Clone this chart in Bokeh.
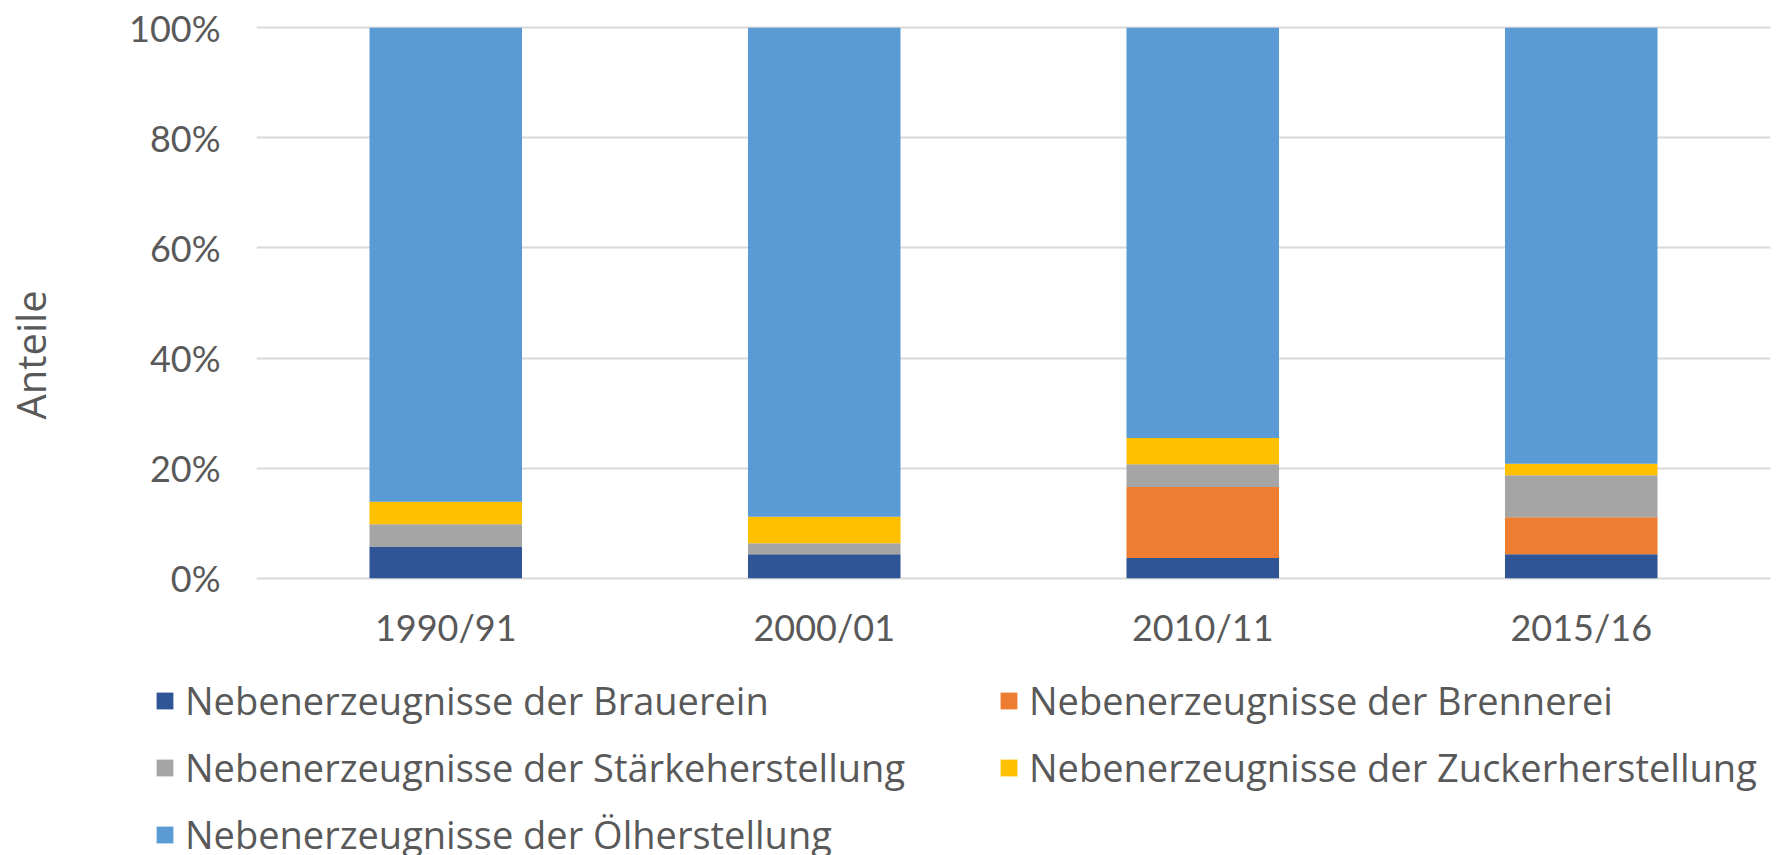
from bokeh.plotting import figure
from bokeh.layouts import column, row
from bokeh.models import Legend, FixedTicker, CustomJSTickFormatter
from bokeh.embed import file_html
from bokeh.resources import INLINE

years = ["1990/91", "2000/01", "2010/11", "2015/16"]
brauerei = [5.7, 4.35, 3.7, 4.35]
brennerei = [0.0, 0.0, 12.9, 6.75]
staerke = [4.1, 2.0, 4.1, 7.6]
zucker = [4.1, 4.85, 4.8, 2.1]
oel = [86.1, 88.8, 74.5, 79.2]

series = ["brauerei", "brennerei", "staerke", "zucker", "oel"]
labels = [
    "Nebenerzeugnisse der Brauerein",
    "Nebenerzeugnisse der Brennerei",
    "Nebenerzeugnisse der Stärkeherstellung",
    "Nebenerzeugnisse der Zuckerherstellung",
    "Nebenerzeugnisse der Ölherstellung",
]
colors = ["#2F5597", "#ED7D31", "#A5A5A5", "#FFC000", "#5B9BD5"]
yticks = [0, 20, 40, 60, 80, 100]

TICK_FONT = "Lato"
TEXT_FONT = "Open Sans"
TXT = "#595959"

data = dict(years=years, brauerei=brauerei, brennerei=brennerei,
            staerke=staerke, zucker=zucker, oel=oel)

p = figure(x_range=years, y_range=(-0.4, 100.4), width=1784, height=651,
           output_backend="svg", toolbar_location=None,
           min_border_left=253, min_border_right=14,
           min_border_top=25, min_border_bottom=70)
p.x_range.range_padding = 0
p.outline_line_color = None

renderers = p.vbar_stack(series, x="years", width=0.403, color=colors,
                         line_color=None, source=data)

p.xgrid.grid_line_color = None
p.ygrid.grid_line_color = "#D9D9D9"
p.ygrid.grid_line_width = 2
p.ygrid.ticker = FixedTicker(ticks=yticks)
p.ygrid.level = "underlay"

p.yaxis.ticker = FixedTicker(ticks=yticks)
p.yaxis.formatter = CustomJSTickFormatter(code="return tick.toFixed(0) + '%'")
for ax in (p.xaxis[0], p.yaxis[0]):
    ax.axis_line_color = None
    ax.major_tick_line_color = None
    ax.minor_tick_line_color = None
    ax.major_label_text_font = TICK_FONT
    ax.major_label_text_font_size = "36px"
    ax.major_label_text_color = TXT
p.yaxis.major_label_standoff = 30
p.xaxis.major_label_standoff = 18

# axis title; trailing non-breaking spaces shift the visible word downwards
p.yaxis.axis_label = "Anteile" + "\u00a0" * 10
p.yaxis.axis_label_text_font = TEXT_FONT
p.yaxis.axis_label_text_font_size = "40px"
p.yaxis.axis_label_text_font_style = "normal"
p.yaxis.axis_label_text_color = TXT
p.yaxis.axis_label_standoff = 68

# legend panel below the chart (swatch renderers sit outside the visible range)
lf = figure(width=1784, height=204, x_range=(0, 1), y_range=(0, 1),
            output_backend="svg", toolbar_location=None,
            x_axis_location=None, y_axis_location=None,
            min_border_left=144, min_border_right=0,
            min_border_top=13, min_border_bottom=0)
lf.grid.visible = False
lf.outline_line_color = None
swatches = {lab: lf.vbar(x=[5], top=[1], width=0.1, color=c, line_color=None)
            for lab, c in zip(labels, colors)}

# Bokeh fills legend columns first; order items so rows read left-to-right
order = [0, 2, 4, 1, 3]
legend = Legend(items=[(labels[i], [swatches[labels[i]]]) for i in order],
                location="top_left", ncols=2,
                glyph_width=21, glyph_height=21, label_standoff=10,
                label_width=798, spacing=15, padding=0, margin=10,
                border_line_alpha=0, background_fill_alpha=0,
                label_text_font=TEXT_FONT, label_text_font_size="38px",
                label_text_color=TXT)
lf.add_layout(legend, "center")

layout = column(p, row(lf, spacing=0), spacing=0)
open("out.html", "w").write(file_html(layout, INLINE))
